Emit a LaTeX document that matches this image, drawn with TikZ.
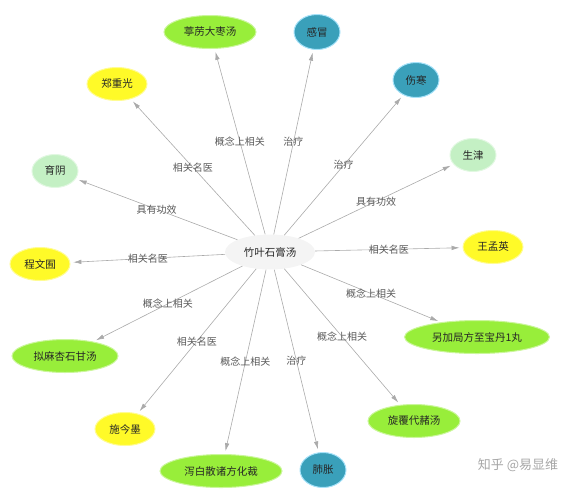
\documentclass[tikz,border=0pt]{standalone}
\usepackage{fontspec}
\setmainfont{Noto Sans CJK SC}
\usepackage{tikz}
\usetikzlibrary{shapes.geometric,arrows.meta}
\definecolor{hubgray}{RGB}{244,244,244}
\definecolor{fgreen}{RGB}{152,238,58}
\definecolor{dyellow}{RGB}{255,250,40}
\definecolor{dteal}{RGB}{58,160,186}
\definecolor{egreen}{RGB}{196,240,196}
\definecolor{linkgray}{RGB}{170,170,170}

\begin{document}
\begin{tikzpicture}[x=1pt,y=-1pt,inner sep=0pt]
\tikzstyle{main}=[ellipse, minimum height=33pt, font=\fontsize{10.5}{12}\selectfont, text=black!85]
\tikzstyle{hub}=[main, fill=hubgray, minimum width=90pt, minimum height=35pt]
\tikzstyle{formula}=[main, fill=fgreen, draw=fgreen!50!white, line width=1pt]
\tikzstyle{doctor}=[main, fill=dyellow, draw=dyellow!50!white, line width=1pt, minimum width=60pt]
\tikzstyle{disease}=[main, fill=dteal, draw=cyan!35!white, line width=1pt, minimum width=46pt, minimum height=35pt]
\tikzstyle{effect}=[main, fill=egreen, draw=egreen!50!white, line width=1pt, minimum width=46pt]
\tikzstyle{connect}=[-{Latex[length=8pt,width=4.5pt]}, draw=linkgray, line width=0.6pt, shorten >=3pt]
\tikzstyle{lbl}=[text=black!65, font=\fontsize{10}{12}\selectfont]
\useasboundingbox (0,0) rectangle (569,491);
% centre
\node[hub] (zysg) at (270,252) {竹叶石膏汤};
% targets
\node[formula, minimum width=92pt] (tldz) at (210,32) {葶苈大枣汤};
\node[disease] (gm) at (317,32) {感冒};
\node[doctor] (zzg) at (117,84) {郑重光};
\node[disease] (sh) at (416,80) {伤寒};
\node[effect] (yy) at (55,171) {育阴};
\node[effect] (sj) at (473,155) {生津};
\node[doctor] (cwy) at (40,264) {程文囿};
\node[doctor] (wmy) at (493,247) {王孟英};
\node[formula, minimum width=106pt] (mxsg) at (65,356) {拟麻杏石甘汤};
\node[formula, minimum width=145pt] (zbd) at (477,337) {另加局方至宝丹1丸};
\node[doctor] (sjm) at (125,429) {施今墨};
\node[formula, minimum width=122pt] (xbs) at (221,471) {泻白散诸方化裁};
\node[disease] (fz) at (323,470) {肺胀};
\node[formula, minimum width=92pt] (xfdz) at (414,421) {旋覆代赭汤};
% links
\path (zysg) edge[connect] node[lbl] {概念上相关} (tldz);
\path (zysg) edge[connect] node[lbl] {治疗} (gm);
\path (zysg) edge[connect] node[lbl] {相关名医} (zzg);
\path (zysg) edge[connect] node[lbl] {治疗} (sh);
\path (zysg) edge[connect] node[lbl] {具有功效} (yy);
\path (zysg) edge[connect] node[lbl] {具有功效} (sj);
\path (zysg) edge[connect] node[lbl] {相关名医} (cwy);
\path (zysg) edge[connect] node[lbl] {相关名医} (wmy);
\path (zysg) edge[connect] node[lbl] {概念上相关} (mxsg);
\path (zysg) edge[connect] node[lbl] {概念上相关} (zbd);
\path (zysg) edge[connect] node[lbl] {相关名医} (sjm);
\path (zysg) edge[connect] node[lbl] {概念上相关} (xbs);
\path (zysg) edge[connect] node[lbl] {治疗} (fz);
\path (zysg) edge[connect] node[lbl] {概念上相关} (xfdz);
% watermark
\node[text=black!35, font=\fontsize{13}{15}\selectfont] (mark) at (518,465) {知乎 @易显维};
\end{tikzpicture}
\end{document}
